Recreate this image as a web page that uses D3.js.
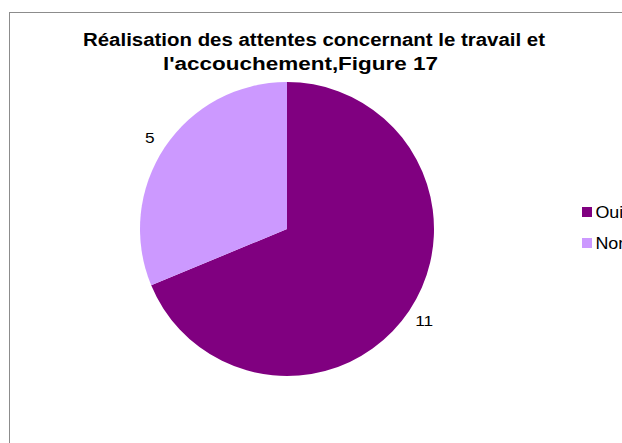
<!DOCTYPE html>
<html>
<head>
<meta charset="utf-8">
<script src="https://cdn.jsdelivr.net/npm/d3@7"></script>
<style>
  body { margin: 0; background: #fff; }
  text { font-family: "Liberation Sans", Arial, sans-serif; }
</style>
</head>
<body>
<svg id="chart" width="622" height="443"></svg>
<script>
// Data
var categories = ["Oui", "Non"];
var values = [11, 5];
var colors = ["#800080", "#CC99FF"];
var titleLines = ["Réalisation des attentes concernant le travail et", "l'accouchement,Figure 17"];

var svg = d3.select("#chart");

// Chart area border (runs off the right and bottom edges)
svg.append("rect")
    .attr("x", 9.5)
    .attr("y", 12.5)
    .attr("width", 640)
    .attr("height", 460)
    .attr("fill", "#fff")
    .attr("stroke", "#8c8c8c")
    .attr("stroke-width", 1);

// Title (the original font renders a bit wider, so stretch to its width)
var titleWidths = [462, 275];
svg.append("g").selectAll("text")
    .data(titleLines)
    .enter().append("text")
    .attr("x", (d, i) => i === 0 ? 314 : 300.5)
    .attr("y", (d, i) => 46 + i * 24)
    .attr("text-anchor", "middle")
    .attr("textLength", (d, i) => titleWidths[i])
    .attr("lengthAdjust", "spacingAndGlyphs")
    .style("font-size", "18px")
    .style("font-weight", "bold")
    .text(d => d);

// Pie
var cx = 287, cy = 229, radius = 147;
var pie = d3.pie().sort(null).value(d => d);
var arc = d3.arc().innerRadius(0).outerRadius(radius);
var labelArc = d3.arc().innerRadius(radius + 18).outerRadius(radius + 18);

var g = svg.append("g")
    .attr("transform", "translate(" + cx + "," + cy + ")");

var arcs = pie(values);

g.selectAll("path")
    .data(arcs)
    .enter().append("path")
    .attr("d", arc)
    .attr("fill", (d, i) => colors[i]);

// Data labels
g.selectAll(".label")
    .data(arcs)
    .enter().append("text")
    .attr("class", "label")
    .attr("transform", function(d) {
        var c = labelArc.centroid(d);
        return "translate(" + c[0] + "," + c[1] + ") scale(1.15,1)";
    })
    .attr("dy", "0.38em")
    .attr("text-anchor", "middle")
    .style("font-size", "15px")
    .text(d => d.data);

// Legend
var legend = svg.append("g")
    .attr("transform", "translate(582,207)");

var item = legend.selectAll("g")
    .data(categories)
    .enter().append("g")
    .attr("transform", (d, i) => "translate(0," + i * 31 + ")");

item.append("rect")
    .attr("width", 10)
    .attr("height", 10)
    .attr("fill", (d, i) => colors[i]);

item.append("text")
    .attr("x", 12)
    .attr("y", 11)
    .attr("transform", "scale(1.12,1)")
    .style("font-size", "16px")
    .text(d => d);
</script>
</body>
</html>
